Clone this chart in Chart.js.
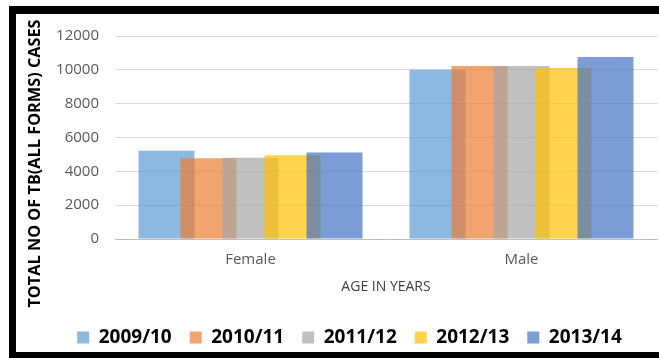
<!DOCTYPE html>
<html>
<head>
<meta charset="utf-8">
<script src="https://cdn.jsdelivr.net/npm/chart.js@4/dist/chart.umd.min.js"></script>
<style>
  html, body { margin: 0; padding: 0; background: #fff; overflow: hidden; }
  #wrap { position: relative; width: 659px; height: 358px; }
  #wrap canvas { position: absolute; left: 0; top: 0; }
  /* heavy black frame round the figure, open on the right */
  #frame {
    position: absolute; left: 9px; top: 6px; width: 720px; height: 338px;
    border-left: 7px solid #000; border-top: 8px solid #000; border-bottom: 6px solid #000;
    pointer-events: none;
  }
</style>
</head>
<body>
<div id="wrap">
  <canvas id="chart" width="659" height="358"></canvas>
  <div id="frame"></div>
</div>
<script>
const categories = ['Female', 'Male'];
const years = ['2009/10', '2010/11', '2011/12', '2012/13', '2013/14'];
const cases2009 = [5220, 10000];
const cases2010 = [4780, 10230];
const cases2011 = [4800, 10230];
const cases2012 = [4950, 10110];
const cases2013 = [5110, 10760];
const yTicks = [0, 2000, 4000, 6000, 8000, 10000, 12000];
const yTitle = 'TOTAL NO OF TB(ALL FORMS) CASES';
const xTitle = 'AGE IN YEARS';

const seriesValues = [cases2009, cases2010, cases2011, cases2012, cases2013];
const seriesColors = [
  'rgba(91,155,213,0.7)',
  'rgba(237,125,49,0.7)',
  'rgba(165,165,165,0.7)',
  'rgba(255,192,0,0.7)',
  'rgba(68,114,196,0.7)'
];

// Draw the overlapping bars first-series-first so later years sit on top.
const seriesOrderDraw = {
  id: 'seriesOrderDraw',
  beforeDatasetsDraw(chart) {
    const metas = chart.getSortedVisibleDatasetMetas();
    for (const meta of metas) chart._drawDataset(meta);
    return false;
  }
};

// Vertical axis title, centred on the plot plus its category labels.
const sideTitle = {
  id: 'sideTitle',
  afterDraw(chart) {
    const ctx = chart.ctx;
    ctx.save();
    ctx.translate(35, 163.5);
    ctx.rotate(-Math.PI / 2);
    ctx.textAlign = 'center';
    ctx.textBaseline = 'middle';
    ctx.font = 'bold 16.3px "Open Sans"';
    ctx.fillStyle = '#000';
    ctx.fillText(yTitle, 0, 0);
    ctx.restore();
  }
};

new Chart(document.getElementById('chart'), {
  type: 'bar',
  data: {
    labels: categories,
    datasets: years.map((y, i) => ({
      label: y,
      data: seriesValues[i],
      backgroundColor: seriesColors[i],
      borderWidth: 0,
      categoryPercentage: 0.775,
      barPercentage: 1.333
    }))
  },
  plugins: [seriesOrderDraw, sideTitle],
  options: {
    responsive: false,
    animation: false,
    layout: { padding: { left: 42, right: 2, top: 36, bottom: 8 } },
    plugins: {
      tooltip: { enabled: false },
      legend: {
        position: 'bottom',
        maxHeight: 40,
        labels: {
          boxWidth: 12,
          boxHeight: 12,
          padding: 18,
          color: '#000',
          font: { family: '"Open Sans"', size: 19, weight: 'bold' }
        }
      }
    },
    scales: {
      x: {
        grid: { display: false, drawTicks: false },
        border: { display: true, color: '#BFBFBF', width: 1 },
        ticks: { color: '#595959', padding: 12, font: { family: '"Open Sans"', size: 15 } },
        title: {
          display: true, text: xTitle, color: '#404040',
          font: { family: '"Open Sans"', size: 14 },
          padding: { top: 0, bottom: 15 }
        },
        afterFit(scale) { scale.height = 71; }
      },
      y: {
        min: 0, max: 12000,
        afterBuildTicks(scale) { scale.ticks = yTicks.map(v => ({ value: v })); },
        grid: { color: '#D9D9D9', drawTicks: false },
        border: { display: false },
        ticks: {
          color: '#595959', padding: 16, font: { family: '"Open Sans"', size: 15 },
          callback: (v) => String(v)
        },
        afterFit(scale) { scale.width = 73; }
      }
    }
  }
});
</script>
</body>
</html>
